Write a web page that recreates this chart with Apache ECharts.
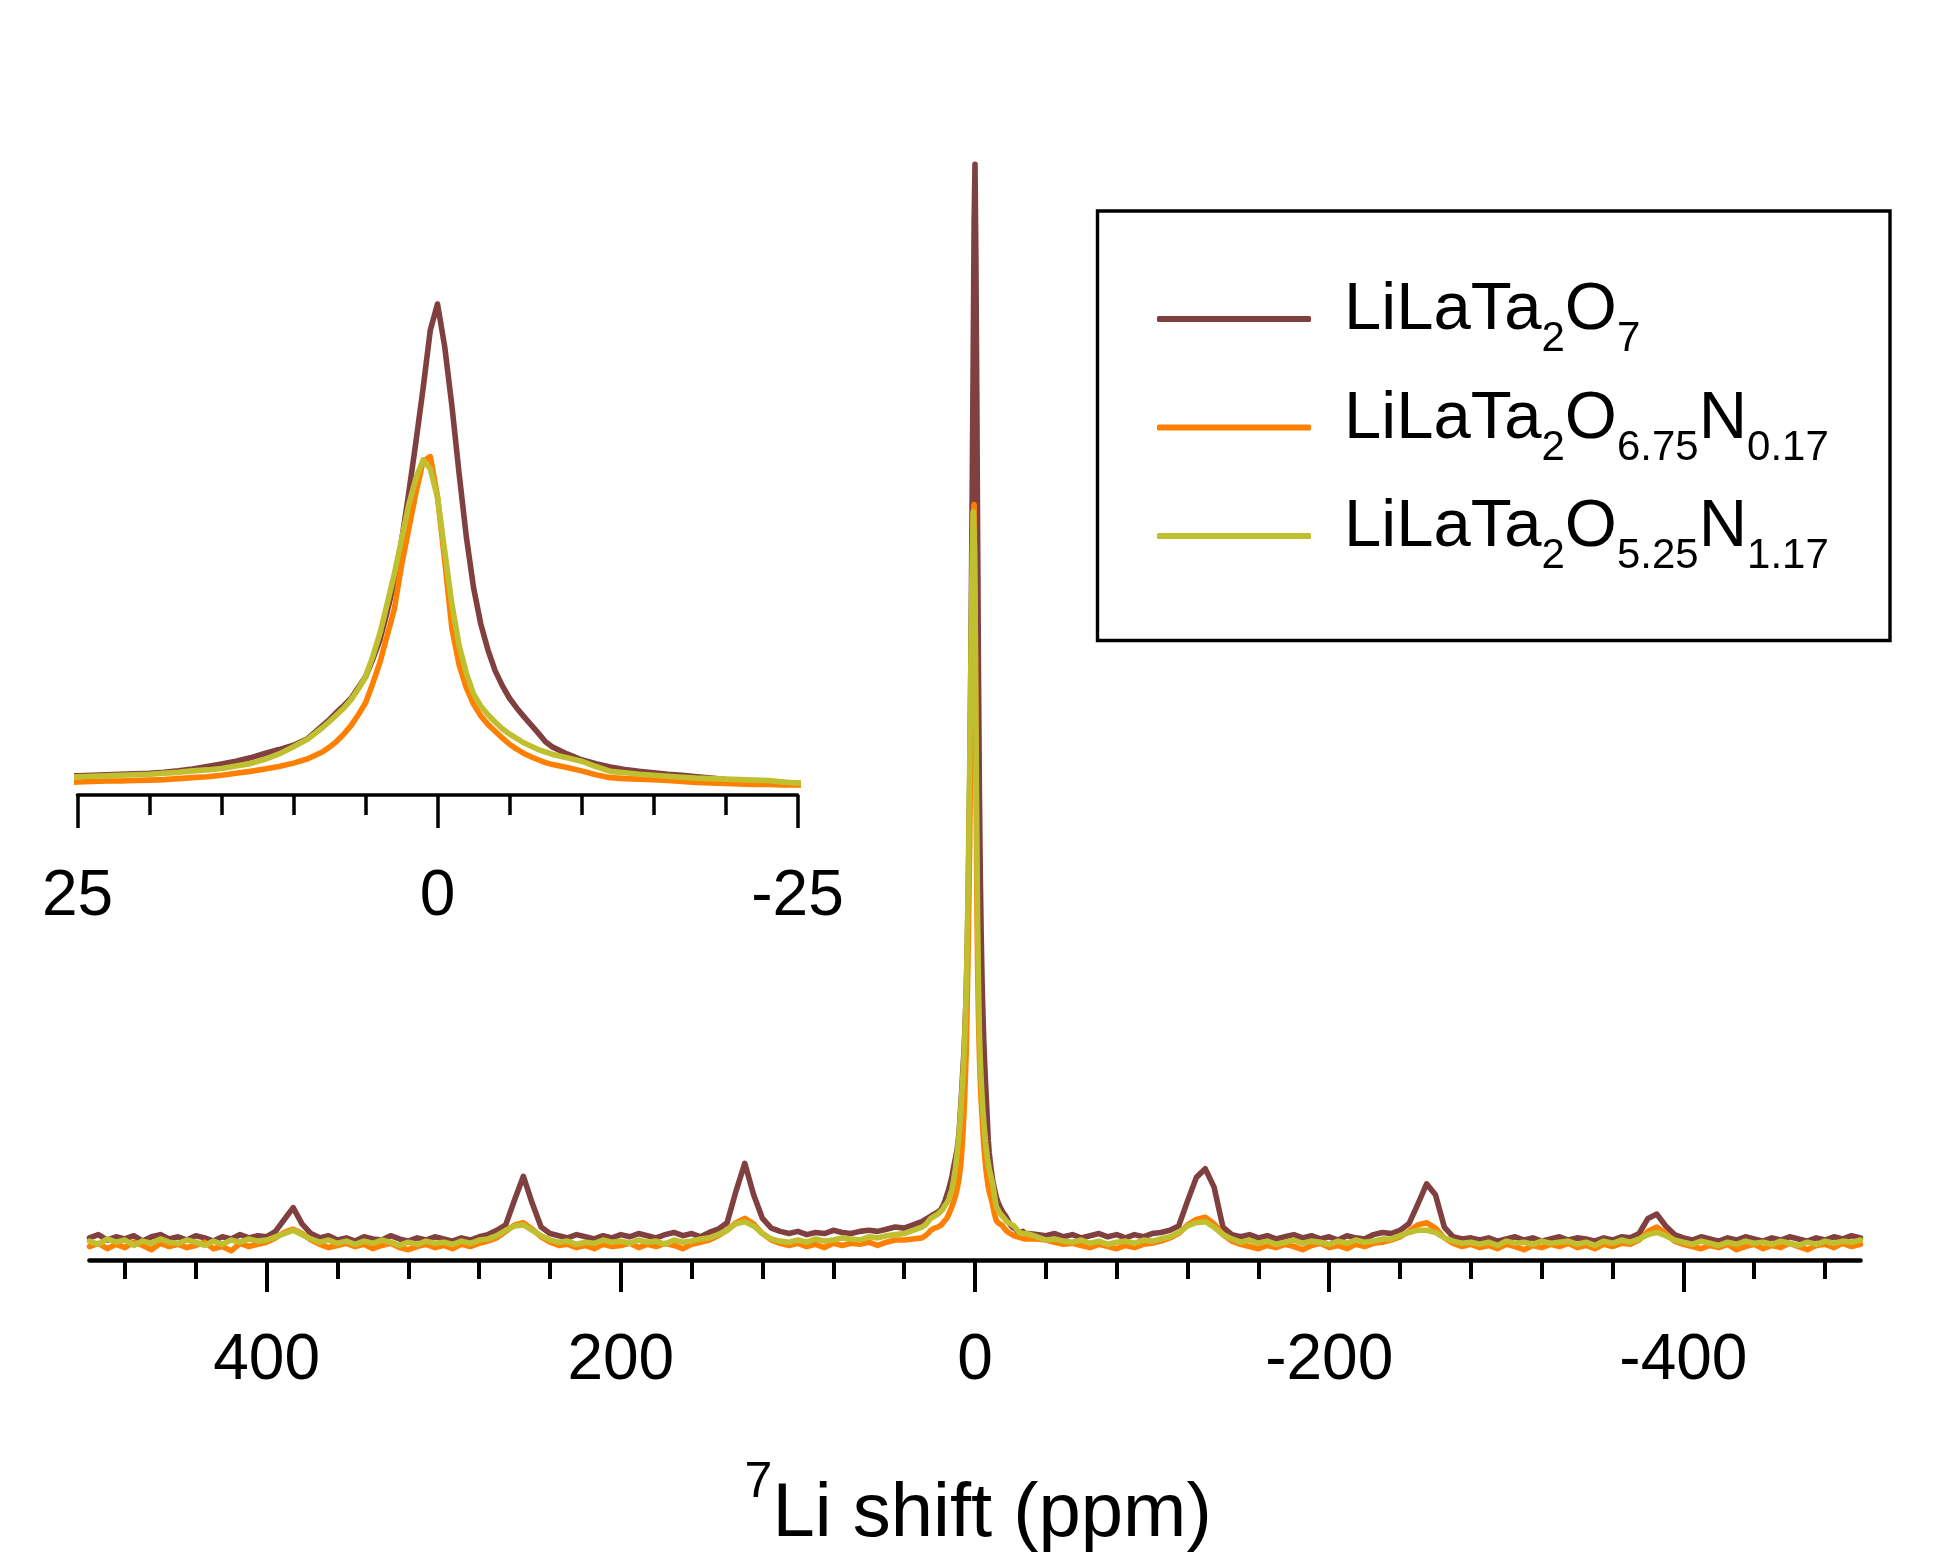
<!DOCTYPE html>
<html><head><meta charset="utf-8">
<script src="https://cdn.jsdelivr.net/npm/echarts@6/dist/echarts.min.js"></script>
<style>html,body{margin:0;padding:0;background:#fff}#chart{width:1950px;height:1560px}</style>
</head><body><div id="chart"></div>
<script>
// 7Li shift (ppm)
const shift = [
500,495,490,485,480,475,470,465,460,455,450,445,440,435,430,425,420,415,410,405,
400,395,390,385,380,375,370,365,360,355,350,345,340,335,330,325,320,315,310,305,
300,295,290,285,280,275,270,265,260,255,250,245,240,235,230,225,220,215,210,205,
200,195,190,185,180,175,170,165,160,155,150,145,140,135,130,125,120,115,110,105,
100,95,90,85,80,75,70,65,60,55,50,45,40,35,
30,29,28,27,26,25,24,23,22,21,20,19,18,17,16,15,14,13,12,11,10,9,
8,7.5,7,6.5,6,5.5,5,4.5,4,3.5,3,2.5,2,1.5,1,0.5,0,-0.5,-1,-1.5,-2,-2.5,-3,-3.5,-4,-4.5,-5,-5.5,-6,-6.5,-7,-7.5,-8,
-9,-10,-11,-12,-13,-14,-15,-16,-17,-18,-19,-20,-21,-22,-23,-24,-25,-26,-27,-28,-29,-30,
-35,-40,-45,-50,-55,-60,-65,-70,-75,-80,-85,-90,-95,-100,-105,-110,-115,-120,-125,-130,
-135,-140,-145,-150,-155,-160,-165,-170,-175,-180,-185,-190,-195,-200,-205,-210,-215,-220,-225,-230,
-235,-240,-245,-250,-255,-260,-265,-270,-275,-280,-285,-290,-295,-300,-305,-310,-315,-320,-325,-330,
-335,-340,-345,-350,-355,-360,-365,-370,-375,-380,-385,-390,-395,-400,-405,-410,-415,-420,-425,-430,
-435,-440,-445,-450,-455,-460,-465,-470,-475,-480,-485,-490,-495,-500
];
// LiLaTa2O7 intensity
const liLaTa2O7 = [
0.6,0.9,0.4,0.7,0.5,0.8,0.3,0.7,0.9,0.5,0.7,0.4,0.8,0.6,0.3,0.7,0.5,0.9,0.6,0.8,
0.7,1.2,2.3,3.4,1.9,1.0,0.6,0.8,0.4,0.6,0.3,0.7,0.5,0.4,0.8,0.5,0.3,0.6,0.4,0.7,
0.5,0.3,0.6,0.4,0.7,0.9,1.3,1.8,4.1,6.3,3.8,1.6,1.0,0.8,0.6,0.9,0.7,0.5,0.8,0.6,
0.9,0.7,1.0,0.8,0.6,0.9,1.1,0.8,1.0,0.7,1.1,1.4,2.0,4.9,7.5,4.6,2.4,1.5,1.2,1.0,
1.2,0.9,1.1,1.0,1.3,1.1,1.0,1.2,1.3,1.2,1.4,1.6,1.5,1.8,
2.1,2.2,2.3,2.4,2.5,2.6,2.7,2.8,2.9,3.0,3.1,3.3,3.6,4.0,4.5,5.0,5.6,6.3,7.2,8.0,8.9,10.3,
12.9,14.2,15.7,17.1,18.6,20.8,23.0,26.6,30.6,36.4,42.7,51.0,60.9,71.5,82.6,94.6,100,91.2,79.0,65.0,52.0,41.5,34.0,28.6,24.3,21.2,18.6,16.6,14.8,13.1,11.4,9.6,8.5,
7.1,5.9,5.1,4.4,3.9,3.5,3.2,2.9,2.7,2.4,2.1,1.8,1.6,1.5,1.4,1.2,1.0,1.1,1.2,1.0,1.1,1.0,
0.9,0.8,1.0,0.7,0.9,0.6,0.8,1.0,0.7,0.9,0.6,0.9,0.7,1.0,1.1,1.3,1.7,4.0,6.2,7.0,
5.3,1.6,0.9,0.7,0.9,0.6,0.8,0.5,0.7,0.9,0.6,0.8,0.5,0.7,0.4,0.8,0.6,0.5,0.9,1.1,
1.0,1.3,1.9,3.7,5.6,4.6,1.6,0.7,0.5,0.6,0.4,0.6,0.3,0.5,0.7,0.4,0.6,0.3,0.5,0.7,
0.4,0.6,0.5,0.3,0.6,0.4,0.7,0.6,1.0,2.4,2.8,1.7,0.9,0.6,0.4,0.7,0.5,0.3,0.6,0.4,
0.7,0.5,0.3,0.6,0.4,0.7,0.5,0.3,0.6,0.4,0.7,0.5,0.8,0.6
];
// LiLaTa2O6.75N0.17 intensity
const liLaTa2O675N017 = [
-0.2,0.1,-0.4,0.0,-0.3,0.2,-0.1,-0.5,0.1,-0.2,0.0,-0.3,-0.1,0.2,-0.4,-0.2,-0.6,0.1,-0.2,0.0,
0.2,0.6,1.1,1.4,1.0,0.4,0.0,-0.3,-0.1,0.1,-0.2,0.0,-0.4,-0.1,0.1,-0.3,-0.5,-0.2,0.0,-0.3,
-0.1,-0.4,0.0,-0.2,0.1,0.3,0.6,1.2,1.8,2.0,1.4,0.7,0.2,-0.1,0.0,-0.3,-0.1,-0.4,0.0,-0.2,
-0.1,0.1,-0.3,0.0,-0.2,0.1,-0.1,-0.4,0.0,0.2,0.4,0.8,1.3,2.0,2.4,1.9,1.0,0.4,0.1,-0.1,
0.1,-0.2,0.0,-0.3,0.1,-0.1,0.1,0.0,0.2,-0.1,0.2,0.4,0.4,0.5,
0.6,0.7,0.8,0.9,1.1,1.3,1.4,1.5,1.5,1.6,1.7,1.8,2.0,2.2,2.4,2.7,3.1,3.5,4.0,4.5,5.2,6.1,
7.5,8.5,9.7,11.2,13.0,15.2,17.6,21.6,26.0,31.5,37.0,46.0,53.5,61.0,67.5,68.5,60.3,47.0,33.0,25.5,20.8,17.4,15.0,13.2,11.8,10.4,9.1,8.1,7.2,6.5,5.9,5.3,4.9,
4.3,3.6,2.8,2.2,2.0,1.9,1.8,1.6,1.4,1.2,1.1,1.0,0.9,0.8,0.8,0.7,0.7,0.6,0.6,0.5,0.6,0.5,
0.5,0.4,0.2,0.0,0.1,-0.1,-0.3,0.0,-0.2,-0.4,-0.1,-0.3,0.0,0.1,0.3,0.6,1.0,1.8,2.3,2.5,
1.9,0.9,0.3,0.0,-0.2,-0.4,-0.1,-0.3,0.0,-0.2,-0.5,-0.1,0.1,-0.3,-0.1,-0.4,0.0,-0.2,0.1,0.2,
0.4,0.7,1.2,1.8,2.0,1.5,0.6,0.1,-0.2,0.0,-0.3,-0.1,-0.4,0.0,-0.2,-0.5,-0.1,-0.3,0.0,-0.2,
0.1,-0.3,-0.1,-0.4,0.0,-0.2,0.1,0.0,0.4,1.2,1.6,1.0,0.3,0.0,-0.2,-0.4,-0.1,-0.3,0.0,-0.5,
-0.2,0.0,-0.4,-0.1,-0.3,0.1,-0.2,-0.5,-0.1,0.0,-0.3,0.1,-0.2,0.0
];
// LiLaTa2O5.25N1.17 intensity
const liLaTa2O525N117 = [
0.3,0.0,0.5,0.2,0.4,-0.1,0.3,0.1,0.5,0.2,0.1,0.4,0.2,-0.1,0.3,0.0,0.4,0.2,0.5,0.3,
0.4,0.7,1.0,1.3,0.9,0.5,0.2,0.4,0.1,0.3,0.0,0.3,0.1,0.4,0.2,-0.1,0.2,0.0,0.3,0.1,
0.2,0.0,0.3,0.1,0.4,0.5,0.8,1.3,1.7,1.8,1.3,0.8,0.4,0.2,0.3,0.0,0.2,0.1,0.4,0.2,
0.3,0.1,0.4,0.2,0.3,0.0,0.4,0.2,0.3,0.5,0.6,0.9,1.3,1.9,2.1,1.7,1.0,0.5,0.3,0.2,
0.4,0.2,0.5,0.3,0.4,0.6,0.5,0.4,0.7,0.6,0.8,0.9,1.0,1.3,
1.6,1.7,1.8,2.0,2.2,2.4,2.5,2.6,2.7,2.8,2.9,3.1,3.3,3.6,3.8,4.1,4.6,5.1,6.0,7.1,8.6,10.2,
12.5,13.8,15.2,16.6,18.3,20.5,23.0,27.2,32.0,38.0,44.2,51.3,58.5,64.0,67.8,66.0,60.0,49.0,38.0,29.5,23.8,19.5,17.0,15.2,13.7,12.3,11.2,10.3,9.4,8.7,8.0,7.5,7.0,
6.3,5.6,4.5,3.5,3.2,2.9,2.7,2.5,2.3,2.1,2.0,1.9,1.8,1.7,1.6,1.3,1.1,1.2,1.0,0.9,1.0,0.9,
0.7,0.4,0.5,0.3,0.2,0.4,0.1,0.3,0.0,0.2,0.3,0.1,0.4,0.3,0.5,0.7,1.1,1.7,2.0,2.1,
1.6,0.9,0.5,0.2,0.4,0.1,0.3,0.0,0.2,0.4,0.1,0.3,0.2,0.0,0.3,0.1,0.4,0.2,0.3,0.5,
0.5,0.8,1.1,1.3,1.3,1.1,0.6,0.3,0.1,0.2,0.0,0.2,-0.1,0.3,0.1,0.2,0.0,0.3,0.1,0.2,
0.3,0.0,0.2,-0.1,0.3,0.1,0.4,0.2,0.5,0.9,1.1,0.8,0.4,0.2,0.0,0.3,0.1,-0.1,0.2,0.0,
0.3,0.1,0.2,0.0,0.3,0.1,-0.1,0.2,0.0,0.3,0.1,0.3,0.2,0.4
];
const seriesNames = ['LiLaTa2O7', 'LiLaTa2O6.75N0.17', 'LiLaTa2O5.25N1.17'];
const legendLabels = [
  '{m|LiLaTa}{s|2}{m|O}{s|7}',
  '{m|LiLaTa}{s|2}{m|O}{s|6.75}{m|N}{s|0.17}',
  '{m|LiLaTa}{s|2}{m|O}{s|5.25}{m|N}{s|1.17}'
];
const mainMajorTicks = [400, 200, 0, -200, -400];
const mainMinorTicks = [480, 440, 360, 320, 280, 240, 160, 120, 80, 40, -40, -80, -120, -160, -240, -280, -320, -360, -440, -480];
const insetMajorTicks = [25, 0, -25];
const insetMinorTicks = [20, 15, 10, 5, -5, -10, -15, -20];

const FONT = '"Liberation Sans", Arial, sans-serif';
const colors = ['#804040', '#FF8000', '#BFBF30'];
const values = [liLaTa2O7, liLaTa2O675N017, liLaTa2O525N117];
const LINE_W = 5.6;

const series = [];
[0, 1].forEach(g => {
  values.forEach((v, i) => {
    series.push({
      type: 'line', name: seriesNames[i], xAxisIndex: g, yAxisIndex: g,
      data: shift.map((x, k) => [x, v[k]]),
      symbol: 'none', showSymbol: false, silent: true, clip: true,
      lineStyle: { color: colors[i], width: LINE_W, join: 'round', cap: 'round' },
      itemStyle: { color: colors[i] },
      emphasis: { disabled: true }
    });
  });
});

const mainGrid = { left: 89.5, top: 142.7, width: 1771, height: 1117.3 };
const insetGrid = { left: 77.5, top: 289.5, width: 720, height: 505.5 };

const chart = echarts.init(document.getElementById('chart'), null, { renderer: 'canvas' });
chart.setOption({
  backgroundColor: '#fff',
  animation: false,
  grid: [
    Object.assign({}, mainGrid),
    Object.assign({}, insetGrid),
    Object.assign({}, mainGrid),
    Object.assign({}, insetGrid)
  ],
  xAxis: [
    { gridIndex: 0, type: 'value', min: -500, max: 500, inverse: true,
      axisLine: { show: true, onZero: false, lineStyle: { color: '#000', width: 4.6 } },
      axisTick: { show: true, customValues: mainMajorTicks, length: 32, lineStyle: { color: '#000', width: 4 } },
      axisLabel: { show: true, customValues: mainMajorTicks, fontSize: 64, fontFamily: FONT, color: '#000', margin: 69 },
      splitLine: { show: false } },
    { gridIndex: 1, type: 'value', min: -25, max: 25, inverse: true,
      axisLine: { show: true, onZero: false, lineStyle: { color: '#000', width: 3.6 } },
      axisTick: { show: true, customValues: insetMajorTicks, length: 33, lineStyle: { color: '#000', width: 3.5 } },
      axisLabel: { show: true, customValues: insetMajorTicks, fontSize: 64, fontFamily: FONT, color: '#000', margin: 70 },
      splitLine: { show: false } },
    { gridIndex: 2, type: 'value', min: -500, max: 500, inverse: true,
      axisLine: { show: false, onZero: false },
      axisTick: { show: true, customValues: mainMinorTicks, length: 19, lineStyle: { color: '#000', width: 4 } },
      axisLabel: { show: false }, splitLine: { show: false } },
    { gridIndex: 3, type: 'value', min: -25, max: 25, inverse: true,
      axisLine: { show: false, onZero: false },
      axisTick: { show: true, customValues: insetMinorTicks, length: 20, lineStyle: { color: '#000', width: 3.5 } },
      axisLabel: { show: false }, splitLine: { show: false } }
  ],
  yAxis: [
    { gridIndex: 0, type: 'value', min: -1.45, max: 102, show: false, splitLine: { show: false } },
    { gridIndex: 1, type: 'value', min: -1.38, max: 103, show: false, splitLine: { show: false } },
    { gridIndex: 2, type: 'value', min: 0, max: 1, show: false, splitLine: { show: false } },
    { gridIndex: 3, type: 'value', min: 0, max: 1, show: false, splitLine: { show: false } }
  ],
  legend: {
    data: seriesNames, orient: 'vertical', left: 1157, top: 277.5, padding: 0,
    icon: 'roundRect', itemWidth: 154, itemHeight: 6, itemGap: 25.5, selectedMode: false,
    formatter: name => legendLabels[seriesNames.indexOf(name)],
    textStyle: {
      fontSize: 67, fontFamily: FONT, color: '#000', padding: [0, 0, 0, 28],
      rich: {
        m: { fontSize: 67, fontFamily: FONT, color: '#000', padding: [0, 0, 16, 0], verticalAlign: 'bottom' },
        s: { fontSize: 42, fontFamily: FONT, color: '#000', verticalAlign: 'bottom' }
      }
    }
  },
  graphic: [
    { type: 'rect', silent: true, shape: { x: 1097.5, y: 211, width: 792.5, height: 429.5 },
      style: { fill: 'none', stroke: '#000', lineWidth: 3.4 } },
    { type: 'text', silent: true,
      style: { text: 'Li shift (ppm)', x: 772.5, y: 1515, font: '76px ' + FONT, fill: '#000', align: 'left', verticalAlign: 'middle' } },
    { type: 'text', silent: true,
      style: { text: '7', x: 744.5, y: 1483.7, font: '50px ' + FONT, fill: '#000', align: 'left', verticalAlign: 'middle' } }
  ],
  series: series
});
</script>
</body></html>
